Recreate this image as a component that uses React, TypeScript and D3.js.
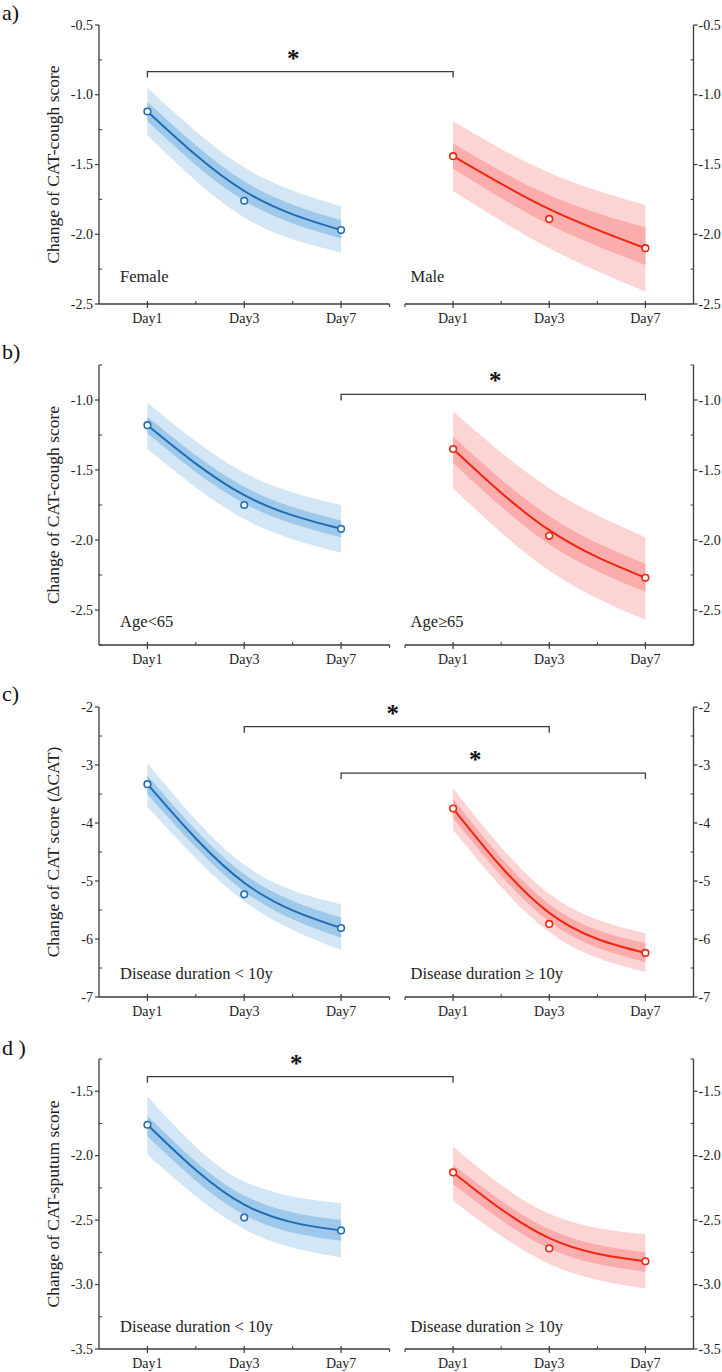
import React from "react";
import * as d3 from "d3";

const days = ["Day1", "Day3", "Day7"];

// Panel a
const aFemaleObs = [-1.12, -1.76, -1.97];
const aFemaleFit = [-1.12, -1.69, -1.97];
const aFemaleOuterHi = [-0.95, -1.52, -1.8];
const aFemaleOuterLo = [-1.29, -1.88, -2.13];
const aFemaleInnerHi = [-1.05, -1.62, -1.9];
const aFemaleInnerLo = [-1.19, -1.76, -2.03];
const aMaleObs = [-1.44, -1.89, -2.1];
const aMaleFit = [-1.44, -1.82, -2.1];
const aMaleOuterHi = [-1.19, -1.56, -1.79];
const aMaleOuterLo = [-1.69, -2.1, -2.41];
const aMaleInnerHi = [-1.35, -1.72, -1.95];
const aMaleInnerLo = [-1.53, -1.93, -2.22];

// Panel b
const bYoungObs = [-1.18, -1.75, -1.92];
const bYoungFit = [-1.18, -1.68, -1.92];
const bYoungOuterHi = [-1.02, -1.52, -1.75];
const bYoungOuterLo = [-1.35, -1.85, -2.09];
const bYoungInnerHi = [-1.12, -1.62, -1.86];
const bYoungInnerLo = [-1.24, -1.74, -1.98];
const bOldObs = [-1.35, -1.97, -2.27];
const bOldFit = [-1.35, -1.93, -2.27];
const bOldOuterHi = [-1.08, -1.63, -1.98];
const bOldOuterLo = [-1.63, -2.22, -2.57];
const bOldInnerHi = [-1.26, -1.83, -2.17];
const bOldInnerLo = [-1.45, -2.03, -2.37];

// Panel c
const cShortObs = [-3.33, -5.23, -5.81];
const cShortFit = [-3.33, -5.03, -5.81];
const cShortOuterHi = [-2.97, -4.72, -5.4];
const cShortOuterLo = [-3.72, -5.35, -6.19];
const cShortInnerHi = [-3.18, -4.88, -5.63];
const cShortInnerLo = [-3.5, -5.18, -5.98];
const cLongObs = [-3.75, -5.74, -6.24];
const cLongFit = [-3.75, -5.55, -6.24];
const cLongOuterHi = [-3.4, -5.22, -5.9];
const cLongOuterLo = [-4.12, -5.88, -6.57];
const cLongInnerHi = [-3.58, -5.4, -6.07];
const cLongInnerLo = [-3.92, -5.7, -6.4];

// Panel d
const dShortObs = [-1.76, -2.48, -2.58];
const dShortFit = [-1.76, -2.38, -2.58];
const dShortOuterHi = [-1.54, -2.2, -2.37];
const dShortOuterLo = [-1.99, -2.57, -2.79];
const dShortInnerHi = [-1.69, -2.31, -2.5];
const dShortInnerLo = [-1.85, -2.46, -2.66];
const dLongObs = [-2.13, -2.72, -2.82];
const dLongFit = [-2.13, -2.64, -2.82];
const dLongOuterHi = [-1.93, -2.45, -2.61];
const dLongOuterLo = [-2.35, -2.84, -3.03];
const dLongInnerHi = [-2.07, -2.57, -2.75];
const dLongInnerLo = [-2.22, -2.72, -2.9];

const aTicks = [-0.5, -1.0, -1.5, -2.0, -2.5];
const bTicks = [-1.0, -1.5, -2.0, -2.5];
const cTicks = [-2, -3, -4, -5, -6, -7];
const dTicks = [-1.5, -2.0, -2.5, -3.0, -3.5];

const BLUE = { line: "#1d6db5", inner: "#9fc9ea", outer: "#d2e6f6" };
const RED = { line: "#f0260e", inner: "#fbacac", outer: "#fdd4d4" };

const serif = "'Liberation Serif', 'Times New Roman', serif";

type Group = {
  name: string;
  obs: number[];
  fit: number[];
  oHi: number[];
  oLo: number[];
  iHi: number[];
  iLo: number[];
  color: typeof BLUE;
};

type Bracket = { from: [number, number]; to: [number, number]; y: number; starDx: number };

type Panel = {
  label: string;
  labelY: number;
  title: string;
  domain: [number, number];
  range: [number, number];
  ticks: number[];
  minorStep: number;
  digits: number;
  groups: [Group, Group];
  groupLabelY: number;
  brackets: Bracket[];
};

const panels: Panel[] = [
  {
    label: "a)",
    labelY: 20,
    title: "Change of CAT-cough score",
    domain: [-2.5, -0.5],
    range: [304, 25],
    ticks: aTicks,
    minorStep: 0.25,
    digits: 1,
    groups: [
      { name: "Female", obs: aFemaleObs, fit: aFemaleFit, oHi: aFemaleOuterHi, oLo: aFemaleOuterLo, iHi: aFemaleInnerHi, iLo: aFemaleInnerLo, color: BLUE },
      { name: "Male", obs: aMaleObs, fit: aMaleFit, oHi: aMaleOuterHi, oLo: aMaleOuterLo, iHi: aMaleInnerHi, iLo: aMaleInnerLo, color: RED },
    ],
    groupLabelY: 282,
    brackets: [{ from: [0, 0], to: [1, 0], y: -0.834, starDx: -7 }],
  },
  {
    label: "b)",
    labelY: 359,
    title: "Change of CAT-cough score",
    domain: [-2.75, -0.75],
    range: [645, 365],
    ticks: bTicks,
    minorStep: 0.25,
    digits: 1,
    groups: [
      { name: "Age<65", obs: bYoungObs, fit: bYoungFit, oHi: bYoungOuterHi, oLo: bYoungOuterLo, iHi: bYoungInnerHi, iLo: bYoungInnerLo, color: BLUE },
      { name: "Age≥65", obs: bOldObs, fit: bOldFit, oHi: bOldOuterHi, oLo: bOldOuterLo, iHi: bOldInnerHi, iLo: bOldInnerLo, color: RED },
    ],
    groupLabelY: 627,
    brackets: [{ from: [0, 2], to: [1, 2], y: -0.96, starDx: 2 }],
  },
  {
    label: "c)",
    labelY: 701,
    title: "Change of CAT score (∆CAT)",
    domain: [-7, -2],
    range: [997, 707],
    ticks: cTicks,
    minorStep: 0.5,
    digits: 0,
    groups: [
      { name: "Disease duration < 10y", obs: cShortObs, fit: cShortFit, oHi: cShortOuterHi, oLo: cShortOuterLo, iHi: cShortInnerHi, iLo: cShortInnerLo, color: BLUE },
      { name: "Disease duration ≥ 10y", obs: cLongObs, fit: cLongFit, oHi: cLongOuterHi, oLo: cLongOuterLo, iHi: cLongInnerHi, iLo: cLongInnerLo, color: RED },
    ],
    groupLabelY: 979,
    brackets: [
      { from: [0, 1], to: [1, 1], y: -2.34, starDx: -4 },
      { from: [0, 2], to: [1, 2], y: -3.14, starDx: -18 },
    ],
  },
  {
    label: "d )",
    labelY: 1055,
    title: "Change of CAT-sputum score",
    domain: [-3.5, -1.25],
    range: [1349, 1059],
    ticks: dTicks,
    minorStep: 0.25,
    digits: 1,
    groups: [
      { name: "Disease duration < 10y", obs: dShortObs, fit: dShortFit, oHi: dShortOuterHi, oLo: dShortOuterLo, iHi: dShortInnerHi, iLo: dShortInnerLo, color: BLUE },
      { name: "Disease duration ≥ 10y", obs: dLongObs, fit: dLongFit, oHi: dLongOuterHi, oLo: dLongOuterLo, iHi: dLongInnerHi, iLo: dLongInnerLo, color: RED },
    ],
    groupLabelY: 1332,
    brackets: [{ from: [0, 0], to: [1, 0], y: -1.387, starDx: -4 }],
  },
];

const xScales = [
  d3.scaleLinear().domain([-0.5, 2.5]).range([99, 389.5]),
  d3.scaleLinear().domain([-0.5, 2.5]).range([405, 693.5]),
];
const LEFT_AXIS = 99;
const RIGHT_AXIS = 693.5;
const AXIS_COLOR = "#3a3a3a";

// plain hyphen-minus, as in the reference
const fmtTick = (v: number, digits: number) => v.toFixed(digits);

function PanelView({ p }: { p: Panel }) {
  const y = d3.scaleLinear().domain(p.domain).range(p.range);
  const bottom = p.range[0];
  const top = p.range[1];
  const minors: number[] = [];
  for (let v = p.domain[0]; v <= p.domain[1] + 1e-9; v += p.minorStep) {
    if (!p.ticks.some((t) => Math.abs(t - v) < 1e-6)) minors.push(+v.toFixed(4));
  }
  const midY = (top + bottom) / 2;

  return (
    <g>
      <text x={2} y={p.labelY} fontFamily={serif} fontSize={22} fill="#111">
        {p.label}
      </text>
      <text
        transform={`translate(59,${midY}) rotate(-90)`}
        textAnchor="middle"
        fontFamily={serif}
        fontSize={17.5}
        fill="#222"
      >
        {p.title}
      </text>

      {p.groups.map((g, gi) => {
        const x = xScales[gi];
        const area = (hi: number[], lo: number[]) =>
          d3
            .area<number>()
            .x((_, i) => x(i))
            .y0((_, i) => y(lo[i]))
            .y1((_, i) => y(hi[i]))
            .curve(d3.curveMonotoneX)(days.map((_, i) => i)) || "";
        const line =
          d3
            .line<number>()
            .x((_, i) => x(i))
            .y((d) => y(d))
            .curve(d3.curveMonotoneX)(g.fit) || "";
        return (
          <g key={gi}>
            <path d={area(g.oHi, g.oLo)} fill={g.color.outer} />
            <path d={area(g.iHi, g.iLo)} fill={g.color.inner} />
            <path d={line} fill="none" stroke={g.color.line} strokeWidth={2} />
            {g.obs.map((v, i) => (
              <circle key={i} cx={x(i)} cy={y(v)} r={3.3} fill="#fff" stroke={g.color.line} strokeWidth={1.6} />
            ))}
            <text x={gi === 0 ? 120 : 410.5} y={p.groupLabelY} fontFamily={serif} fontSize={16.5} fill="#222">
              {g.name}
            </text>
          </g>
        );
      })}

      {p.brackets.map((b, bi) => {
        const x1 = xScales[b.from[0]](b.from[1]);
        const x2 = xScales[b.to[0]](b.to[1]);
        const yy = y(b.y);
        return (
          <g key={bi}>
            <path d={`M${x1},${yy + 6}V${yy}H${x2}V${yy + 6}`} fill="none" stroke={AXIS_COLOR} strokeWidth={1.3} />
            <text
              x={(x1 + x2) / 2 + b.starDx}
              y={yy - 5}
              textAnchor="middle"
              fontFamily={serif}
              fontWeight="bold"
              fontSize={25}
              fill="#111"
            >
              *
            </text>
          </g>
        );
      })}

      {/* left axis */}
      <line x1={LEFT_AXIS} x2={LEFT_AXIS} y1={top} y2={bottom} stroke={AXIS_COLOR} strokeWidth={1.3} />
      {p.ticks.map((t) => (
        <g key={`l${t}`}>
          <line x1={LEFT_AXIS - 4} x2={LEFT_AXIS} y1={y(t)} y2={y(t)} stroke={AXIS_COLOR} strokeWidth={1.2} />
          <text x={LEFT_AXIS - 6} y={y(t) + 4.5} textAnchor="end" fontFamily={serif} fontSize={14} fill="#222">
            {fmtTick(t, p.digits)}
          </text>
        </g>
      ))}
      {minors.map((t) => (
        <line key={`lm${t}`} x1={LEFT_AXIS} x2={LEFT_AXIS + 3} y1={y(t)} y2={y(t)} stroke={AXIS_COLOR} strokeWidth={1} />
      ))}

      {/* right axis */}
      <line x1={RIGHT_AXIS} x2={RIGHT_AXIS} y1={top} y2={bottom} stroke={AXIS_COLOR} strokeWidth={1.3} />
      {p.ticks.map((t) => (
        <g key={`r${t}`}>
          <line x1={RIGHT_AXIS} x2={RIGHT_AXIS + 4} y1={y(t)} y2={y(t)} stroke={AXIS_COLOR} strokeWidth={1.2} />
          <text x={RIGHT_AXIS + 5} y={y(t) + 4.5} textAnchor="start" fontFamily={serif} fontSize={14} fill="#222">
            {fmtTick(t, p.digits)}
          </text>
        </g>
      ))}
      {minors.map((t) => (
        <line key={`rm${t}`} x1={RIGHT_AXIS - 3} x2={RIGHT_AXIS} y1={y(t)} y2={y(t)} stroke={AXIS_COLOR} strokeWidth={1} />
      ))}

      {/* broken x axis */}
      {xScales.map((x, xi) => {
        const [r0, r1] = x.range();
        return (
          <g key={`x${xi}`}>
            <line x1={r0} x2={r1} y1={bottom} y2={bottom} stroke={AXIS_COLOR} strokeWidth={1.3} />
            {xi === 0 ? (
              <line x1={r1} x2={r1} y1={bottom} y2={bottom + 3} stroke={AXIS_COLOR} strokeWidth={1.1} />
            ) : (
              <line x1={r0} x2={r0} y1={bottom} y2={bottom + 3} stroke={AXIS_COLOR} strokeWidth={1.1} />
            )}
            {days.map((dname, i) => (
              <g key={dname}>
                <line x1={x(i)} x2={x(i)} y1={bottom - 3} y2={bottom + 4} stroke={AXIS_COLOR} strokeWidth={1.2} />
                <text x={x(i)} y={bottom + 19} textAnchor="middle" fontFamily={serif} fontSize={14} fill="#222">
                  {dname}
                </text>
              </g>
            ))}
            {[0.5, 1.5].map((m) => (
              <line key={m} x1={x(m)} x2={x(m)} y1={bottom - 3} y2={bottom} stroke={AXIS_COLOR} strokeWidth={1} />
            ))}
          </g>
        );
      })}
    </g>
  );
}

export default function App() {
  return (
    <svg
      width={722}
      height={1372}
      viewBox="0 0 722 1372"
      style={{ position: "absolute", left: 0, top: 0, background: "#fff", display: "block" }}
    >
      <rect x={0} y={0} width={722} height={1372} fill="#fff" />
      {panels.map((p, i) => (
        <PanelView key={i} p={p} />
      ))}
    </svg>
  );
}
